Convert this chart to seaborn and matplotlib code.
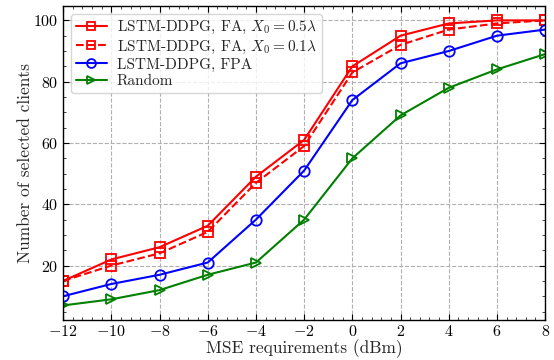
import matplotlib
matplotlib.use("Agg")
import matplotlib.pyplot as plt
import seaborn as sns
import numpy as np
from matplotlib.ticker import MultipleLocator

x_vals = [-12, -10, -8, -6, -4, -2, 0, 2, 4, 6, 8]
fa_05 = [15, 22, 26, 33, 49, 61, 85, 95, 99, 100, 100]
fa_01 = [15, 20, 24, 31, 47, 59, 83, 92, 97, 99, 100]
fpa = [10, 14, 17, 21, 35, 51, 74, 86, 90, 95, 97]
rnd = [7, 9, 12, 17, 21, 35, 55, 69, 78, 84, 89]
labels = [r"LSTM-DDPG, FA, $X_0=0.5\lambda$",
          r"LSTM-DDPG, FA, $X_0=0.1\lambda$",
          "LSTM-DDPG, FPA",
          "Random"]

sns.set_theme(style="ticks")
plt.rcParams.update({
    "font.family": ["cmr10", "DejaVu Serif"],
    "mathtext.fontset": "cm",
    "axes.formatter.use_mathtext": True,
    "axes.unicode_minus": False,
    "xtick.direction": "in",
    "ytick.direction": "in",
    "xtick.top": True,
    "ytick.right": True,
    "xtick.minor.visible": True,
    "ytick.minor.visible": True,
})

fig = plt.figure(figsize=(5.54, 3.6), dpi=100)
ax = fig.add_axes([0.114, 0.112, 0.87, 0.871])

series = [fa_05, fa_01, fpa, rnd]
colors = ["red", "red", "blue", "green"]
markers = ["s", "s", "o", ">"]
styles = ["-", "--", "-", "-"]
for y, c, m, ls, lab in zip(series, colors, markers, styles, labels):
    sns.lineplot(x=x_vals, y=y, ax=ax, color=c, marker=m, linestyle=ls,
                 markersize=7.5, markerfacecolor="none", markeredgecolor=c,
                 markeredgewidth=1.3, linewidth=1.5, label=lab)

ax.set_xlim(-12, 8)
ax.set_xticks(x_vals)
ax.xaxis.set_minor_locator(MultipleLocator(0.4))
ax.set_yticks([20, 40, 60, 80, 100])
ax.yaxis.set_minor_locator(MultipleLocator(5))
ax.grid(True, which="major", linestyle="--", color="#b0b0b0", linewidth=0.8)
for s in ax.spines.values():
    s.set_linewidth(1.0)
    s.set_color("black")
ax.tick_params(which="major", length=4, width=0.8, labelsize=11.5, colors="black")
ax.tick_params(which="minor", length=2.2, width=0.6)
ax.tick_params(axis="x", pad=3)
ax.set_xlabel("MSE requirements (dBm)", fontsize=12.5, labelpad=0)
ax.set_ylabel("Number of selected clients", fontsize=12.5, labelpad=0)
leg = ax.legend(loc="upper left", fontsize=11, frameon=True, fancybox=True,
                framealpha=0.8, edgecolor="#cccccc", handlelength=2.0,
                handletextpad=0.65, markerscale=0.85,
                borderaxespad=0.5, borderpad=0.35, labelspacing=0.15)
fig.savefig("out.png", dpi=100)
